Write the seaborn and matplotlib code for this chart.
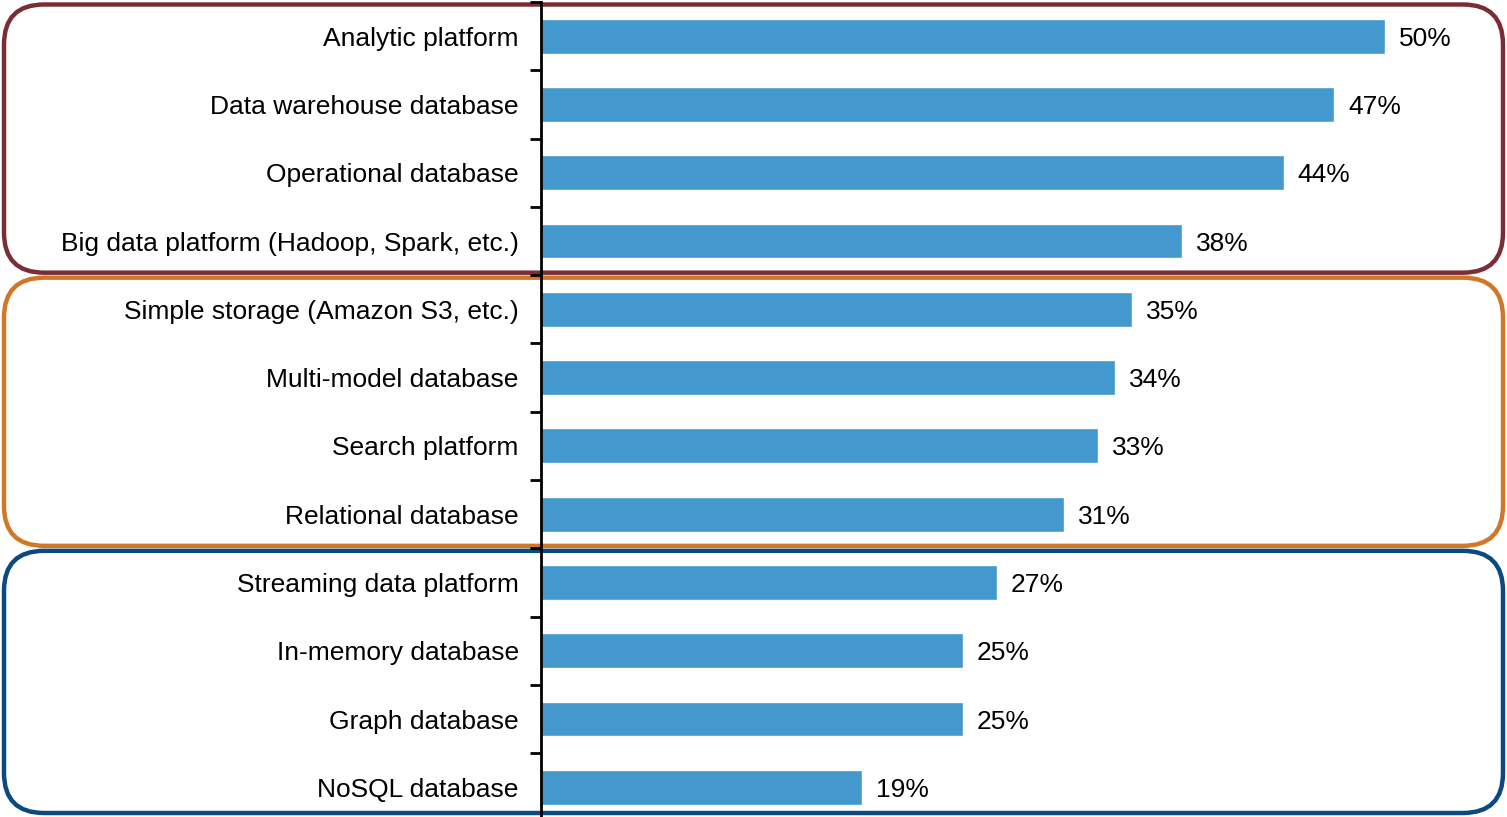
import matplotlib
matplotlib.use("Agg")
import matplotlib.pyplot as plt
import numpy as np
import pandas as pd
import seaborn as sns
from matplotlib.patches import FancyBboxPatch

# Data
categories = [
    "Analytic platform",
    "Data warehouse database",
    "Operational database",
    "Big data platform (Hadoop, Spark, etc.)",
    "Simple storage (Amazon S3, etc.)",
    "Multi-model database",
    "Search platform",
    "Relational database",
    "Streaming data platform",
    "In-memory database",
    "Graph database",
    "NoSQL database",
]
values = [50, 47, 44, 38, 35, 34, 33, 31, 27, 25, 25, 19]

# group frames: (first row, last row, colour)
groups = [(0, 3, "#7B2D35"), (4, 7, "#D07828"), (8, 11, "#0B4A80")]

BAR_COLOR = "#4398CE"
W, H = 1507, 817

sns.set_theme(style="white")
plt.rcParams["font.family"] = ["Liberation Sans", "DejaVu Sans"]

df = pd.DataFrame({"category": categories, "value": values})

fig = plt.figure(figsize=(W / 100, H / 100), dpi=100)

# overlay axes in pixel units for the rounded group frames
bg = fig.add_axes([0, 0, 1, 1], zorder=0)
bg.set_xlim(0, W)
bg.set_ylim(H, 0)
bg.axis("off")

# main bar axes
top_px, bottom_px, left_px = 2, 821.5, 541
ax = fig.add_axes([left_px / W, 1 - bottom_px / H, 1 - left_px / W, (bottom_px - top_px) / H], zorder=1)
ax.patch.set_alpha(0)

sns.barplot(data=df, y="category", x="value", orient="h", color=BAR_COLOR,
            width=0.51, saturation=1, ax=ax)

row_h = (bottom_px - top_px) / len(categories)
for first, last, col in groups:
    y0 = top_px + first * row_h + 2.5
    y1 = top_px + (last + 1) * row_h - 2.5
    if last == len(categories) - 1:
        y1 = 813
    box = FancyBboxPatch((4, y0), W - 8, y1 - y0,
                         boxstyle="round,pad=0,rounding_size=40",
                         fill=False, edgecolor=col, linewidth=3.2)
    bg.add_patch(box)

ax.set_xlim(0, (W - left_px) / 16.88)
ax.set_ylim(len(categories) - 0.5, -0.5)
ax.set_xlabel("")
ax.set_ylabel("")
ax.set_xticks([])
for s in ["top", "right", "bottom"]:
    ax.spines[s].set_visible(False)
ax.spines["left"].set_color("black")
ax.spines["left"].set_linewidth(2)

ax.tick_params(axis="y", which="major", length=0, pad=16, labelsize=19, labelcolor="black")
ax.set_yticks(np.arange(-0.5, len(categories), 1), minor=True)
ax.tick_params(axis="y", which="minor", length=8, width=2, color="black", direction="out", left=True)

for lab in ax.bar_label(ax.containers[0], labels=[f"{v}%" for v in values], padding=10,
                        fontsize=19, color="black"):
    lab.set_va("center_baseline")

fig.savefig("out.png", dpi=100)
